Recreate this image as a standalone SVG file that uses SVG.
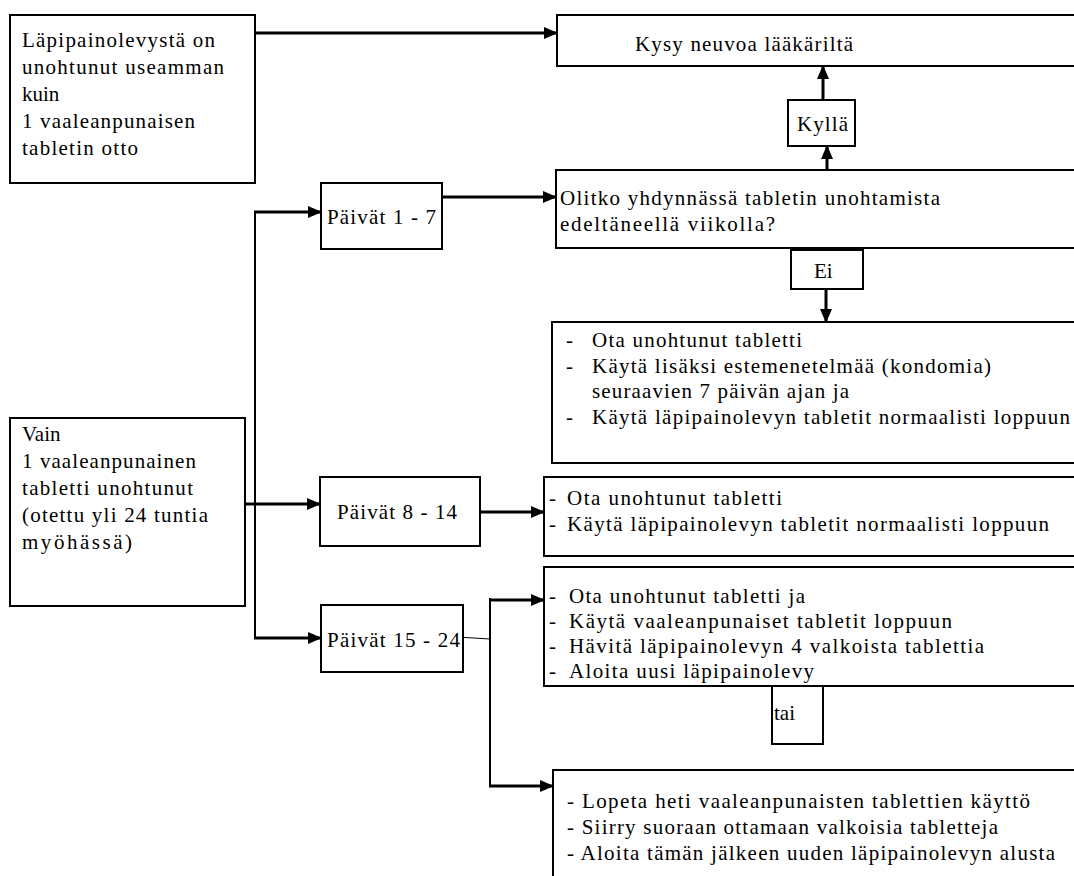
<svg xmlns="http://www.w3.org/2000/svg" width="1074" height="876" viewBox="0 0 1074 876" font-family="Liberation Serif, Times New Roman, Times, serif">
<style>
.box{fill:#fff;stroke:#000;stroke-width:2}
.t{font-family:"Liberation Serif","Times New Roman",Times,serif;font-size:21px;fill:#000}
.c{fill:none;stroke:#000;stroke-width:3}
.v{fill:none;stroke:#000;stroke-width:2}
.thin{fill:none;stroke:#000;stroke-width:1.2}
</style>
<defs>
<marker id="ah" markerUnits="userSpaceOnUse" markerWidth="14" markerHeight="12" refX="13" refY="6" orient="auto"><path d="M0,0 L14,6 L0,12 z" fill="#000"/></marker>
</defs>
<rect width="1074" height="876" fill="#fff"/>
<g id="connectors">
<path class="c" d="M255,33 H557" marker-end="url(#ah)"/>
<path class="c" d="M823,100 V66" marker-end="url(#ah)"/>
<path class="c" d="M827,170 V146" marker-end="url(#ah)"/>
<path class="c" d="M442,197 H556" marker-end="url(#ah)"/>
<path class="v" d="M255,638 V212"/>
<path class="c" d="M254,212 H321" marker-end="url(#ah)"/>
<path class="c" d="M254,638 H321" marker-end="url(#ah)"/>
<path class="c" d="M195,504 H320" marker-end="url(#ah)"/>
<path class="c" d="M480,512 H544" marker-end="url(#ah)"/>
<path class="c" d="M826,289 V322" marker-end="url(#ah)"/>
<path class="v" d="M490,598 V786"/>
<path class="c" d="M489,600 H544" marker-end="url(#ah)"/>
<path class="c" d="M489,786 H553" marker-end="url(#ah)"/>
<path class="thin" d="M440,636 L490,639"/>
</g>
<g id="n1"><rect class="box" x="10" y="15" width="245" height="168"/>
<text class="t" x="22" y="47" textLength="193" lengthAdjust="spacing">Läpipainolevystä on</text>
<text class="t" x="22" y="74" textLength="202" lengthAdjust="spacing">unohtunut useamman</text>
<text class="t" x="22" y="101">kuin</text>
<text class="t" x="22" y="128" textLength="173" lengthAdjust="spacing">1 vaaleanpunaisen</text>
<text class="t" x="22" y="155" textLength="116" lengthAdjust="spacing">tabletin otto</text></g>
<g id="kysy"><rect class="box" x="557" y="15" width="530" height="51"/>
<text class="t" x="635" y="51" textLength="218" lengthAdjust="spacing">Kysy neuvoa lääkäriltä</text></g>
<g id="kylla"><rect class="box" x="788" y="100" width="67" height="46"/>
<text class="t" x="797" y="131" textLength="51" lengthAdjust="spacing">Kyllä</text></g>
<g id="olitko"><rect class="box" x="556" y="170" width="530" height="78"/>
<text class="t" x="560" y="205" textLength="380" lengthAdjust="spacing">Olitko yhdynnässä tabletin unohtamista</text>
<text class="t" x="560" y="231" textLength="215" lengthAdjust="spacing">edeltäneellä viikolla?</text></g>
<g id="p17"><rect class="box" x="321" y="183" width="121" height="66"/>
<text class="t" x="327" y="224" textLength="109" lengthAdjust="spacing">Päivät 1 - 7</text></g>
<g id="ei"><rect class="box" x="791" y="250" width="72" height="39"/>
<text class="t" x="814" y="278">Ei</text></g>
<g id="list1"><rect class="box" x="552" y="322" width="530" height="141"/>
<text class="t" x="566" y="347">-</text><text class="t" x="592" y="347" textLength="210" lengthAdjust="spacing">Ota unohtunut tabletti</text>
<text class="t" x="566" y="373">-</text><text class="t" x="592" y="373" textLength="399" lengthAdjust="spacing">Käytä lisäksi estemenetelmää (kondomia)</text>
<text class="t" x="592" y="398" textLength="257" lengthAdjust="spacing">seuraavien 7 päivän ajan ja</text>
<text class="t" x="566" y="424">-</text><text class="t" x="592" y="424" textLength="478" lengthAdjust="spacing">Käytä läpipainolevyn tabletit normaalisti loppuun</text></g>
<g id="vain"><rect class="box" x="10" y="418" width="235" height="188"/>
<text class="t" x="22" y="441">Vain</text>
<text class="t" x="22" y="468" textLength="174" lengthAdjust="spacing">1 vaaleanpunainen</text>
<text class="t" x="22" y="495" textLength="171" lengthAdjust="spacing">tabletti unohtunut</text>
<text class="t" x="22" y="522" textLength="186" lengthAdjust="spacing">(otettu yli 24 tuntia</text>
<text class="t" x="22" y="549" textLength="110" lengthAdjust="spacing">myöhässä)</text></g>
<g id="p814"><rect class="box" x="320" y="477" width="160" height="69"/>
<text class="t" x="337" y="519" textLength="120" lengthAdjust="spacing">Päivät 8 - 14</text></g>
<g id="list2"><rect class="box" x="544" y="477" width="540" height="79"/>
<text class="t" x="549" y="505">-</text><text class="t" x="567" y="505" textLength="215" lengthAdjust="spacing">Ota unohtunut tabletti</text>
<text class="t" x="549" y="531">-</text><text class="t" x="567" y="531" textLength="482" lengthAdjust="spacing">Käytä läpipainolevyn tabletit normaalisti loppuun</text></g>
<g id="list3"><rect class="box" x="544" y="567" width="540" height="119"/>
<text class="t" x="549" y="603">-</text><text class="t" x="569" y="603" textLength="236" lengthAdjust="spacing">Ota unohtunut tabletti ja</text>
<text class="t" x="549" y="628">-</text><text class="t" x="569" y="628" textLength="383" lengthAdjust="spacing">Käytä vaaleanpunaiset tabletit loppuun</text>
<text class="t" x="549" y="653">-</text><text class="t" x="569" y="653" textLength="415" lengthAdjust="spacing">Hävitä läpipainolevyn 4 valkoista tablettia</text>
<text class="t" x="549" y="678">-</text><text class="t" x="569" y="678" textLength="245" lengthAdjust="spacing">Aloita uusi läpipainolevy</text></g>
<g id="tai"><rect class="box" x="772" y="686" width="51" height="58"/>
<text class="t" x="774" y="720">tai</text></g>
<g id="p1524"><rect class="box" x="321" y="605" width="142" height="67"/>
<text class="t" x="327" y="647" textLength="133" lengthAdjust="spacing">Päivät 15 - 24</text></g>
<g id="list4"><rect class="box" x="553" y="770" width="530" height="120"/>
<text class="t" x="567" y="808" textLength="463" lengthAdjust="spacing">- Lopeta heti vaaleanpunaisten tablettien käyttö</text>
<text class="t" x="567" y="834" textLength="431" lengthAdjust="spacing">- Siirry suoraan ottamaan valkoisia tabletteja</text>
<text class="t" x="567" y="860" textLength="488" lengthAdjust="spacing">- Aloita tämän jälkeen uuden läpipainolevyn alusta</text></g>
</svg>
